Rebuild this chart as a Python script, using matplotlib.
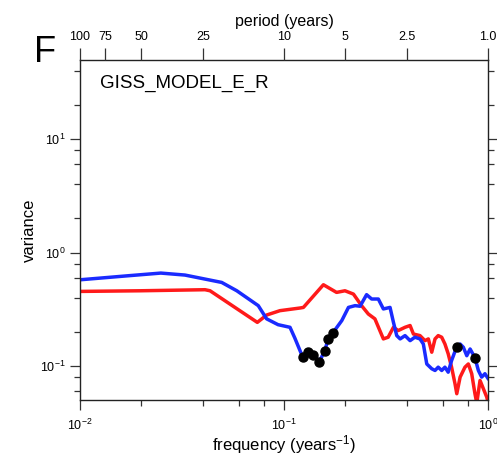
import numpy as np
import matplotlib
matplotlib.use("Agg")
import matplotlib.pyplot as plt
from matplotlib.ticker import LogLocator, FixedLocator, NullFormatter, NullLocator

plt.rcParams['font.family'] = ['Liberation Sans', 'DejaVu Sans']
plt.rcParams['mathtext.fontset'] = 'custom'
plt.rcParams['mathtext.rm'] = 'Liberation Sans'
plt.rcParams['mathtext.it'] = 'Liberation Sans'
plt.rcParams['axes.unicode_minus'] = False

# red spectrum (frequency in 1/years, variance)
red_freq = [0.0100, 0.0197, 0.0410, 0.0434, 0.0740, 0.0822, 0.0955, 0.1197, 0.1245,
            0.156, 0.181, 0.199, 0.219, 0.240, 0.259, 0.279, 0.307, 0.324, 0.344,
            0.363, 0.392, 0.415, 0.431, 0.464, 0.491, 0.510, 0.530, 0.550, 0.570,
            0.593, 0.615, 0.638, 0.663, 0.689, 0.703, 0.730, 0.771, 0.801, 0.832,
            0.863, 0.881, 0.914, 0.949, 0.986, 1.0]
red_var = [0.454, 0.46, 0.47, 0.46, 0.242, 0.281, 0.307, 0.324, 0.328,
           0.52, 0.445, 0.46, 0.43, 0.34, 0.287, 0.26, 0.173, 0.179, 0.219,
           0.205, 0.219, 0.227, 0.191, 0.185, 0.167, 0.173, 0.132, 0.173, 0.185,
           0.179, 0.156, 0.128, 0.0974, 0.0696, 0.0568, 0.0796, 0.0974, 0.104, 0.0853,
           0.0568, 0.047, 0.0744, 0.0629, 0.053, 0.048]

# blue spectrum
blue_freq = [0.0100, 0.0172, 0.0249, 0.0327, 0.0495, 0.0587, 0.0748, 0.0822, 0.0935,
             0.107, 0.113, 0.1236, 0.1316, 0.1393, 0.149, 0.158, 0.165, 0.173,
             0.192, 0.207, 0.223, 0.236, 0.254, 0.269, 0.290, 0.307, 0.331, 0.344,
             0.357, 0.371, 0.392, 0.415, 0.438, 0.464, 0.482, 0.501, 0.530, 0.550,
             0.570, 0.593, 0.615, 0.638, 0.663, 0.703, 0.730, 0.757, 0.787, 0.817,
             0.863, 0.897, 0.931, 0.966, 1.0]
blue_var = [0.575, 0.624, 0.659, 0.633, 0.545, 0.46, 0.34, 0.26, 0.231,
            0.219, 0.176, 0.119, 0.1325, 0.126, 0.109, 0.135, 0.173, 0.194,
            0.251, 0.328, 0.34, 0.336, 0.425, 0.389, 0.389, 0.318, 0.328, 0.242,
            0.185, 0.173, 0.185, 0.167, 0.179, 0.173, 0.156, 0.104, 0.0943, 0.0911,
            0.0974, 0.0911, 0.0974, 0.0880, 0.1115, 0.148, 0.156, 0.146, 0.123, 0.141,
            0.118, 0.0911, 0.0796, 0.0853, 0.0775]

# significant points on blue curve
sig_freq = [0.1236, 0.1316, 0.1393, 0.149, 0.158, 0.165, 0.173, 0.703, 0.863]
sig_var = [0.119, 0.1325, 0.126, 0.109, 0.135, 0.173, 0.194, 0.148, 0.118]

periods = [100, 75, 50, 25, 10, 5, 2.5, 1.0]
period_labels = ["100", "75", "50", "25", "10", "5", "2.5", "1.0"]

fig = plt.figure(figsize=(4.97, 4.61), dpi=100)
ax = fig.add_axes([80/497, 1-400/461, 408/497, 340/461])

ax.plot(red_freq, red_var, color='#ff1a1a', lw=2.5, solid_joinstyle='round')
ax.plot(blue_freq, blue_var, color='#1a2bff', lw=2.5, solid_joinstyle='round')
ax.plot(sig_freq, sig_var, 'o', color='black', ms=6.5, zorder=5)

ax.set_xscale('log')
ax.set_yscale('log')
ax.set_xlim(0.01, 1.0)
ax.set_ylim(0.05, 50)

for axis in [ax.xaxis, ax.yaxis]:
    axis.set_major_locator(LogLocator(base=10, numticks=10))
    axis.set_minor_locator(LogLocator(base=10, subs=[2, 4, 6, 8], numticks=10))
    axis.set_minor_formatter(NullFormatter())

ax.tick_params(which='both', direction='out', width=0.9, color='#333333', labelsize=9)
ax.tick_params(axis='y', which='both', left=True, right=True)
ax.tick_params(which='major', length=7)
ax.tick_params(which='minor', length=4)
ax.tick_params(axis='x', pad=6)
for s in ax.spines.values():
    s.set_linewidth(1.0)
    s.set_color('#222222')

ax.set_xlabel('frequency (years$^{-1}$)', fontsize=12, labelpad=0)
ax.set_ylabel('variance', fontsize=12, labelpad=2)

ax.text(0.049, 0.93, 'GISS_MODEL_E_R', transform=ax.transAxes, fontsize=13.5,
        va='center', ha='left')

# top axis with period
top = ax.twiny()
top.set_xscale('log')
top.set_xlim(ax.get_xlim())
top.xaxis.set_major_locator(FixedLocator([1.0/p for p in periods]))
top.xaxis.set_minor_locator(NullLocator())
top.set_xticklabels(period_labels)
top.tick_params(direction='out', length=9, width=0.9, color='#333333', labelsize=9, pad=3)
top.set_xlabel('period (years)', fontsize=11.5, labelpad=4)
for s in top.spines.values():
    s.set_visible(False)

fig.text(45/497, 1-52/461, 'F', fontsize=26, ha='center', va='center')

fig.savefig('out.png', dpi=100)
